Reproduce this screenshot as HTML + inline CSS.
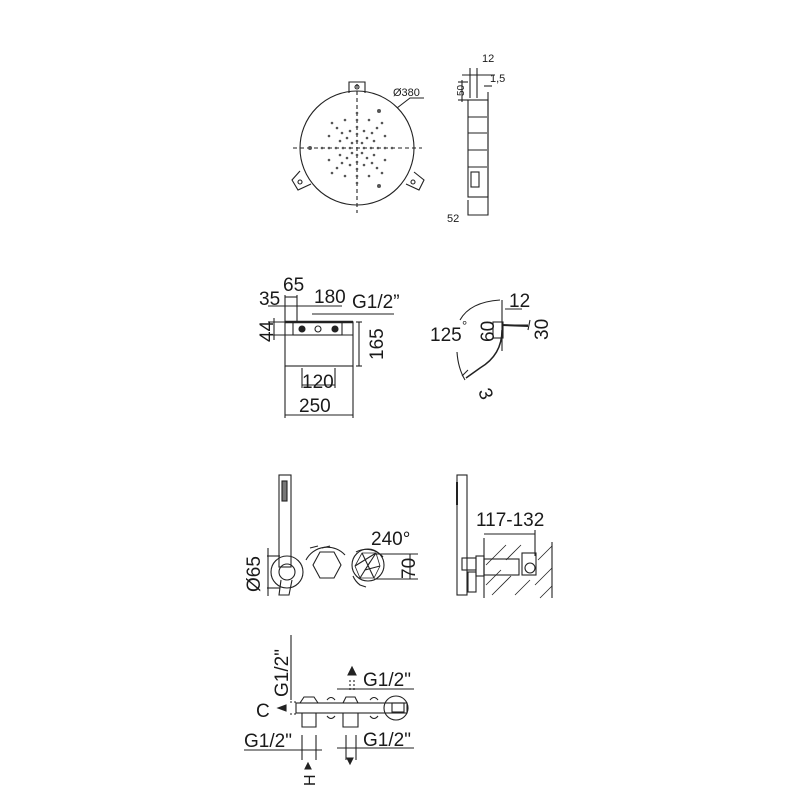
<!DOCTYPE html>
<html><head><meta charset="utf-8"><style>
html,body{margin:0;padding:0;background:#fff;}
svg{display:block;}
text{font-family:"Liberation Sans",sans-serif;fill:#1a1a1a;}
</style></head><body>
<svg width="800" height="800" viewBox="0 0 800 800" xmlns="http://www.w3.org/2000/svg" stroke="#222" fill="none" stroke-width="1.1">
<!-- TOP: round head -->
<circle cx="357" cy="148" r="57"/>
<line x1="293" y1="148" x2="422" y2="148" stroke-dasharray="4,3"/>
<line x1="357" y1="84" x2="357" y2="213" stroke-dasharray="4,3"/>
<path d="M349 93 V82 H365 V93"/><circle cx="357" cy="87" r="2"/>
<path d="M300 171 L292 180 L298 190 L311 184"/><circle cx="300" cy="182" r="2"/>
<path d="M406 184 L419 190 L424 180 L414 172"/><circle cx="413" cy="182" r="2"/>
<path d="M397 108 L410 98 L424 98"/>
<text x="393" y="96" font-size="11" stroke="none">Ø380</text>
<g fill="#555" stroke="none">
<circle cx="379" cy="111" r="2"/><circle cx="379" cy="186" r="2"/><circle cx="310" cy="148" r="2"/>
<circle cx="357" cy="113" r="1.3"/><circle cx="357" cy="120" r="1.3"/><circle cx="357" cy="127" r="1.3"/><circle cx="357" cy="134" r="1.3"/><circle cx="357" cy="141" r="1.3"/>
<circle cx="357" cy="155" r="1.3"/><circle cx="357" cy="162" r="1.3"/><circle cx="357" cy="169" r="1.3"/><circle cx="357" cy="176" r="1.3"/><circle cx="357" cy="183" r="1.3"/>
<circle cx="322" cy="148" r="1.3"/><circle cx="329" cy="148" r="1.3"/><circle cx="336" cy="148" r="1.3"/><circle cx="343" cy="148" r="1.3"/><circle cx="350" cy="148" r="1.3"/>
<circle cx="364" cy="148" r="1.3"/><circle cx="371" cy="148" r="1.3"/><circle cx="378" cy="148" r="1.3"/><circle cx="385" cy="148" r="1.3"/><circle cx="392" cy="148" r="1.3"/>
<circle cx="362" cy="143" r="1.3"/><circle cx="367" cy="138" r="1.3"/><circle cx="372" cy="133" r="1.3"/><circle cx="377" cy="128" r="1.3"/><circle cx="382" cy="123" r="1.3"/>
<circle cx="352" cy="143" r="1.3"/><circle cx="347" cy="138" r="1.3"/><circle cx="342" cy="133" r="1.3"/><circle cx="337" cy="128" r="1.3"/><circle cx="332" cy="123" r="1.3"/>
<circle cx="362" cy="153" r="1.3"/><circle cx="367" cy="158" r="1.3"/><circle cx="372" cy="163" r="1.3"/><circle cx="377" cy="168" r="1.3"/><circle cx="382" cy="173" r="1.3"/>
<circle cx="352" cy="153" r="1.3"/><circle cx="347" cy="158" r="1.3"/><circle cx="342" cy="163" r="1.3"/><circle cx="337" cy="168" r="1.3"/><circle cx="332" cy="173" r="1.3"/>
<circle cx="364" cy="131" r="1.3"/><circle cx="369" cy="120" r="1.3"/><circle cx="350" cy="131" r="1.3"/><circle cx="345" cy="120" r="1.3"/>
<circle cx="364" cy="165" r="1.3"/><circle cx="369" cy="176" r="1.3"/><circle cx="350" cy="165" r="1.3"/><circle cx="345" cy="176" r="1.3"/>
<circle cx="340" cy="141" r="1.3"/><circle cx="329" cy="136" r="1.3"/><circle cx="374" cy="141" r="1.3"/><circle cx="385" cy="136" r="1.3"/>
<circle cx="340" cy="155" r="1.3"/><circle cx="329" cy="160" r="1.3"/><circle cx="374" cy="155" r="1.3"/><circle cx="385" cy="160" r="1.3"/>
</g>
<!-- side view -->
<rect x="468" y="100" width="20" height="97"/>
<line x1="488" y1="92" x2="488" y2="200"/>
<line x1="468" y1="117" x2="487" y2="117"/><line x1="468" y1="133" x2="487" y2="133"/><line x1="468" y1="150" x2="487" y2="150"/><line x1="468" y1="167" x2="487" y2="167"/>
<rect x="471" y="172" width="8" height="15"/>
<line x1="470" y1="68" x2="470" y2="98"/><line x1="477" y1="68" x2="477" y2="98"/><line x1="462" y1="75" x2="495" y2="75"/>
<line x1="458" y1="82" x2="468" y2="82"/><line x1="458" y1="100" x2="468" y2="100"/><line x1="462" y1="80" x2="462" y2="102"/>
<line x1="484" y1="86" x2="492" y2="86"/>
<path d="M468 200 V215 H488 V200"/>
<text x="482" y="62" font-size="11" stroke="none">12</text>
<text x="490" y="82" font-size="11" stroke="none">1,5</text>
<text x="464" y="96" font-size="10" stroke="none" transform="rotate(-90 464 96)">50</text>
<text x="447" y="222" font-size="11" stroke="none">52</text>

<!-- MIDDLE: box -->
<rect x="285" y="322" width="68" height="44"/>
<line x1="285" y1="322" x2="353" y2="322" stroke-width="2.5"/>
<line x1="285" y1="335" x2="353" y2="335"/>
<rect x="293" y="322" width="49" height="13"/>
<circle cx="302" cy="329" r="3" fill="#222"/><circle cx="318" cy="329" r="3"/><circle cx="335" cy="329" r="3" fill="#222"/>
<line x1="285" y1="366" x2="285" y2="418"/><line x1="353" y1="366" x2="353" y2="418"/>
<line x1="285" y1="415" x2="353" y2="415"/>
<line x1="302" y1="368" x2="302" y2="388"/><line x1="335" y1="368" x2="335" y2="388"/>
<line x1="302" y1="385" x2="335" y2="385"/>
<line x1="356" y1="322" x2="362" y2="322"/><line x1="356" y1="366" x2="362" y2="366"/><line x1="359" y1="322" x2="359" y2="366"/>
<line x1="268" y1="322" x2="285" y2="322"/><line x1="268" y1="335" x2="285" y2="335"/><line x1="274" y1="318" x2="274" y2="340"/>
<line x1="285" y1="295" x2="285" y2="322"/><line x1="297" y1="295" x2="297" y2="322"/><line x1="285" y1="297" x2="297" y2="297"/>
<line x1="268" y1="306" x2="342" y2="306"/>
<line x1="312" y1="314" x2="394" y2="314"/>
<text x="259" y="305" font-size="19" stroke="none">35</text>
<text x="283" y="291" font-size="19" stroke="none">65</text>
<text x="314" y="303" font-size="19" stroke="none">180</text>
<text x="352" y="308" font-size="19" stroke="none">G1/2”</text>
<text x="273" y="342" font-size="19" stroke="none" transform="rotate(-90 273 342)">44</text>
<text x="383" y="360" font-size="19" stroke="none" transform="rotate(-90 383 360)">165</text>
<text x="302" y="388" font-size="19" stroke="none">120</text>
<text x="299" y="412" font-size="19" stroke="none">250</text>
<!-- side bracket -->
<path d="M502 330 Q502 355 480 368 L466 378" stroke-width="1.5"/>
<path d="M500 300 Q470 302 460 320"/>
<path d="M457 352 Q458 368 465 380"/>
<rect x="493" y="322" width="10" height="16"/>
<line x1="502" y1="325" x2="528" y2="326" stroke-width="2"/>
<line x1="505" y1="309" x2="522" y2="309"/><line x1="505" y1="325" x2="528" y2="325"/>
<line x1="530" y1="320" x2="528" y2="330"/>
<line x1="502" y1="300" x2="502" y2="351"/>
<line x1="462" y1="376" x2="468" y2="370"/>
<text x="509" y="307" font-size="19" stroke="none">12</text>
<text x="494" y="342" font-size="19" stroke="none" transform="rotate(-90 494 342)">60</text>
<text x="548" y="340" font-size="19" stroke="none" transform="rotate(-90 548 340)">30</text>
<text x="430" y="341" font-size="19" stroke="none">125</text>
<text x="462" y="330" font-size="13" stroke="none">°</text>
<text x="478" y="391" font-size="19" stroke="none" transform="rotate(70 478 391)">3</text>

<!-- ROW 3 -->
<rect x="279" y="475" width="12" height="92"/>
<rect x="282" y="481" width="5" height="20" fill="#777"/>
<circle cx="287" cy="572" r="16"/><circle cx="287" cy="572" r="8"/>
<path d="M281 580 L279 595 H289 L292 580"/>
<line x1="267" y1="556" x2="280" y2="556"/><line x1="267" y1="588" x2="280" y2="588"/><line x1="268" y1="548" x2="268" y2="596"/>
<text x="260" y="592" font-size="19" stroke="none" transform="rotate(-90 260 592)">Ø65</text>
<polygon points="320,552 334,552 341,565 334,578 320,578 313,565"/>
<path d="M306 560 A24 24 0 0 1 345 555"/><path d="M310 548 L318 546 M322 548 L330 546"/>
<circle cx="368" cy="565" r="16"/>
<polygon points="362,553 376,553 380,566 374,578 360,578 355,566" stroke-width="0.8"/>
<path d="M355 566 L376 553 L365 570 L380 566 M362 553 L374 578 M360 578 L370 562"/>
<path d="M356 552 A22 22 0 0 1 383 557"/><path d="M353 576 A22 22 0 0 0 360 585 L366 587"/>
<line x1="374" y1="554" x2="418" y2="554"/><line x1="374" y1="579" x2="418" y2="579"/><line x1="410" y1="554" x2="410" y2="579"/>
<text x="371" y="545" font-size="19" stroke="none">240°</text>
<text x="415" y="579" font-size="19" stroke="none" transform="rotate(-90 415 579)">70</text>
<!-- right side -->
<rect x="457" y="475" width="10" height="120"/>
<line x1="457" y1="482" x2="457" y2="505" stroke-width="2"/>
<rect x="462" y="558" width="14" height="12"/>
<rect x="468" y="572" width="8" height="20"/>
<rect x="476" y="556" width="8" height="20"/>
<rect x="484" y="559" width="35" height="16"/>
<circle cx="530" cy="568" r="5"/>
<rect x="522" y="553" width="14" height="22"/>
<line x1="484" y1="538" x2="484" y2="598"/><line x1="535" y1="530" x2="535" y2="556"/>
<line x1="484" y1="534" x2="535" y2="534"/>
<line x1="552" y1="542" x2="552" y2="598"/>
<g stroke-width="0.8">
<line x1="486" y1="565" x2="506" y2="545"/><line x1="486" y1="585" x2="501" y2="570"/><line x1="492" y1="595" x2="511" y2="576"/><line x1="506" y1="560" x2="521" y2="545"/><line x1="515" y1="595" x2="530" y2="580"/>
<line x1="538" y1="560" x2="552" y2="546"/><line x1="535" y1="585" x2="552" y2="568"/><line x1="540" y1="598" x2="552" y2="586"/>
</g>
<text x="476" y="526" font-size="19" stroke="none">117-132</text>

<!-- ROW 4 -->
<line x1="291" y1="635" x2="291" y2="700"/>
<rect x="296" y="703" width="111" height="10"/>
<path d="M300 703 L304 697 H314 L318 703 M302 713 V727 H316 V713"/>
<path d="M327 700 Q331 695 335 700 M327 716 Q331 721 335 716"/>
<path d="M343 703 L346 697 H355 L358 703 M343 713 V727 H358 V713"/>
<path d="M370 700 Q374 695 378 700 M370 716 Q374 721 378 716"/>
<circle cx="396" cy="708" r="12"/>
<rect x="392" y="703" width="12" height="9"/>
<path d="M352 667 L348 675 H356 Z" fill="#222"/><line x1="350" y1="680" x2="350" y2="690" stroke-dasharray="2,2"/><line x1="354" y1="680" x2="354" y2="690" stroke-dasharray="2,2"/>
<line x1="337" y1="689" x2="414" y2="689"/>
<line x1="302" y1="735" x2="302" y2="760"/><line x1="316" y1="735" x2="316" y2="760"/>
<line x1="244" y1="750" x2="322" y2="750"/>
<line x1="346" y1="735" x2="346" y2="760"/><line x1="356" y1="735" x2="356" y2="760"/>
<line x1="337" y1="748" x2="414" y2="748"/>
<path d="M350 764 L347 758 H353 Z" fill="#222"/>
<path d="M308 763 L305 769 H311 Z" fill="#222"/>
<path d="M278 708 L286 705 V711 Z" fill="#222"/><line x1="290" y1="702" x2="296" y2="702" stroke-dasharray="2,2"/><line x1="290" y1="714" x2="296" y2="714" stroke-dasharray="2,2"/>
<text x="288" y="697" font-size="19" stroke="none" transform="rotate(-90 288 697)">G1/2"</text>
<text x="363" y="686" font-size="19" stroke="none">G1/2"</text>
<text x="256" y="717" font-size="19" stroke="none">C</text>
<text x="244" y="747" font-size="19" stroke="none">G1/2"</text>
<text x="363" y="746" font-size="19" stroke="none">G1/2"</text>
<text x="315" y="786" font-size="16" stroke="none" transform="rotate(-90 315 786)">H</text>
</svg>
</body></html>
